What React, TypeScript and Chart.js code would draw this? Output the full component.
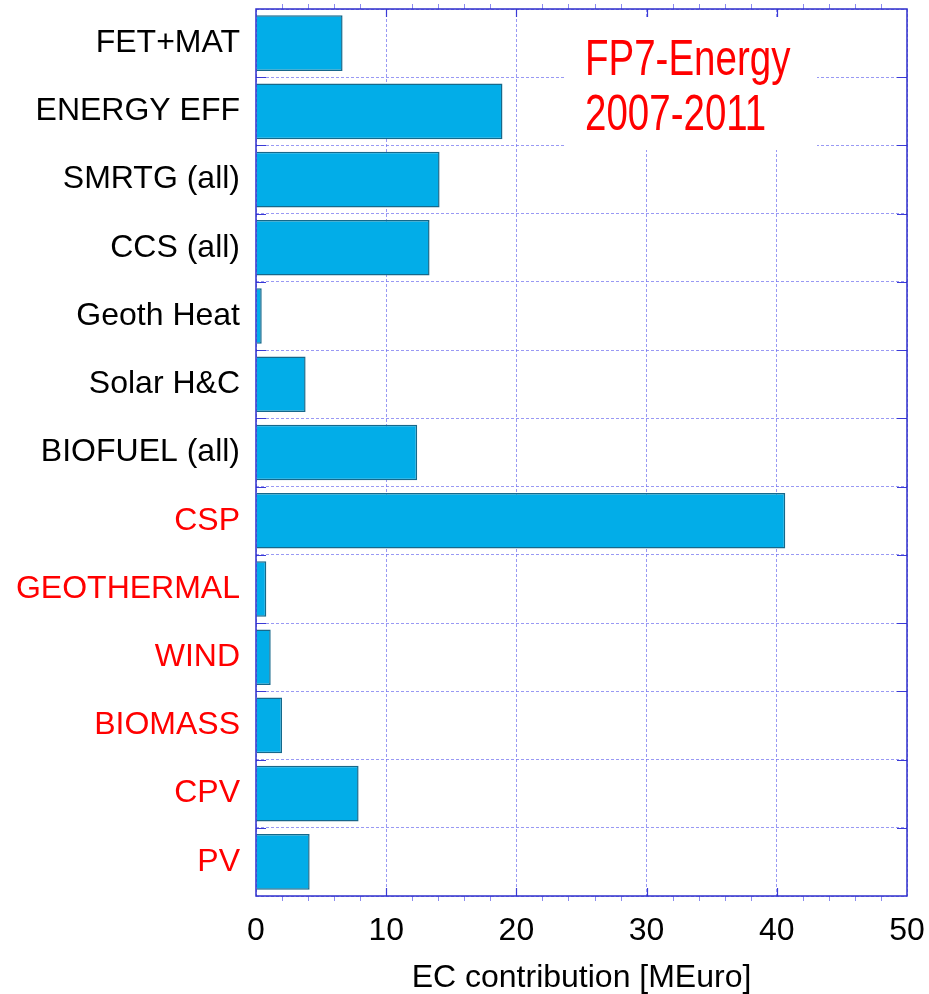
import React, { useEffect, useRef } from "react";
import { Chart, registerables } from "chart.js";

Chart.register(...registerables);

const categories = [
  "FET+MAT",
  "ENERGY EFF",
  "SMRTG (all)",
  "CCS (all)",
  "Geoth Heat",
  "Solar H&C",
  "BIOFUEL (all)",
  "CSP",
  "GEOTHERMAL",
  "WIND",
  "BIOMASS",
  "CPV",
  "PV",
];
const ecContribution = [6.65, 18.93, 14.1, 13.33, 0.44, 3.81, 12.38, 40.65, 0.79, 1.13, 2.0, 7.88, 4.12];
const redFromIndex = 7;
const xTicks = [0, 10, 20, 30, 40, 50];
const titleLines = ["FP7-Energy", "2007-2011"];
const xAxisTitle = "EC contribution [MEuro]";

const FONT = '"Liberation Sans", Helvetica, Arial, sans-serif';

const framePlugin = {
  id: "framePlugin",
  afterDraw(chart: any) {
    const { ctx, chartArea } = chart;
    const xs = chart.scales.x;
    const ys = chart.scales.y;
    const { left, right, top, bottom } = chartArea;
    ctx.save();
    // white box behind the title
    ctx.fillStyle = "#ffffff";
    ctx.fillRect(565, 17, 252, 133);
    // title text, condensed
    ctx.fillStyle = "#ff0000";
    ctx.font = `50px ${FONT}`;
    ctx.textBaseline = "alphabetic";
    ctx.textAlign = "left";
    const bases = [75, 130];
    titleLines.forEach((t, i) => {
      ctx.save();
      ctx.translate(585, bases[i]);
      ctx.scale(0.77, 1);
      ctx.fillText(t, 0, 0);
      ctx.restore();
    });
    // ticks on x (top & bottom)
    for (let v = 0; v <= 50; v += 2) {
      const x = Math.round(xs.getPixelForValue(v)) + 0.5;
      if (v % 10 === 0) {
        if (v === 0 || v === 50) continue;
        ctx.strokeStyle = "#3a3ad6";
        ctx.lineWidth = 1.2;
        ctx.beginPath();
        ctx.moveTo(x, top);
        ctx.lineTo(x, top + 8);
        ctx.moveTo(x, bottom);
        ctx.lineTo(x, bottom - 8);
        ctx.stroke();
      } else {
        ctx.strokeStyle = "#8a8af0";
        ctx.lineWidth = 1;
        ctx.beginPath();
        ctx.moveTo(x, top);
        ctx.lineTo(x, top - 5);
        ctx.moveTo(x, bottom);
        ctx.lineTo(x, bottom + 5);
        ctx.stroke();
      }
    }
    // ticks on y at category boundaries
    ctx.strokeStyle = "#3a3ad6";
    ctx.lineWidth = 1.2;
    for (let i = 1; i < categories.length; i++) {
      const y = Math.round((ys.getPixelForTick(i - 1) + ys.getPixelForTick(i)) / 2) + 0.5;
      ctx.beginPath();
      ctx.moveTo(left, y);
      ctx.lineTo(left + 10, y);
      ctx.moveTo(right, y);
      ctx.lineTo(right - 10, y);
      ctx.stroke();
    }
    // frame
    ctx.strokeStyle = "#2f2fcc";
    ctx.lineWidth = 1.5;
    ctx.strokeRect(left, top, right - left, bottom - top);
    ctx.restore();
  },
};

export default function App() {
  const ref = useRef<HTMLCanvasElement | null>(null);
  useEffect(() => {
    if (!ref.current) return;
    const chart = new Chart(ref.current, {
      type: "bar",
      data: {
        labels: categories,
        datasets: [
          {
            data: ecContribution,
            backgroundColor: "#02ADE8",
            borderColor: "#16688a",
            borderWidth: 1.5,
            borderSkipped: "start",
            barPercentage: 0.815,
            categoryPercentage: 1,
          },
        ],
      },
      plugins: [framePlugin],
      options: {
        indexAxis: "y",
        responsive: false,
        animation: false,
        devicePixelRatio: 1,
        layout: { padding: { top: 9, right: 22, left: 0, bottom: 0 } },
        plugins: {
          legend: { display: false },
          tooltip: { enabled: false },
          title: { display: false },
        },
        scales: {
          x: {
            type: "linear",
            min: 0,
            max: 50,
            afterBuildTicks: (scale: any) => {
              scale.ticks = xTicks.map((v) => ({ value: v }));
            },
            afterFit: (scale: any) => {
              scale.height = 98;
              scale.paddingLeft = 0;
              scale.paddingRight = 0;
              scale.paddingTop = 0;
              scale.paddingBottom = 0;
            },
            grid: {
              color: "rgba(110,110,240,0.7)",
              lineWidth: 1,
              drawTicks: false,
            },
            border: { display: false, dash: [3, 2] },
            ticks: {
              color: "#000000",
              padding: 16,
              font: { family: FONT, size: 32 },
            },
            title: {
              display: true,
              text: xAxisTitle,
              color: "#000000",
              font: { family: FONT, size: 32, lineHeight: 1.0 },
              padding: { top: 0, bottom: 0 },
            },
          },
          y: {
            type: "category",
            afterFit: (scale: any) => {
              scale.width = 256;
              scale.paddingLeft = 0;
              scale.paddingRight = 0;
              scale.paddingTop = 0;
              scale.paddingBottom = 0;
            },
            grid: {
              color: "rgba(110,110,240,0.7)",
              lineWidth: 1,
              drawTicks: false,
              offset: true,
            },
            border: { display: false, dash: [3, 2] },
            ticks: {
              padding: 16,
              font: { family: FONT, size: 32 },
              color: (c: any) => (c.index >= redFromIndex ? "#ff0000" : "#000000"),
            },
          },
        },
      },
    } as any);
    return () => chart.destroy();
  }, []);
  return (
    <div style={{ position: "fixed", left: 0, top: 0, width: 929, height: 994, background: "#fff" }}>
      <canvas ref={ref} width={929} height={994} style={{ display: "block" }} />
    </div>
  );
}
